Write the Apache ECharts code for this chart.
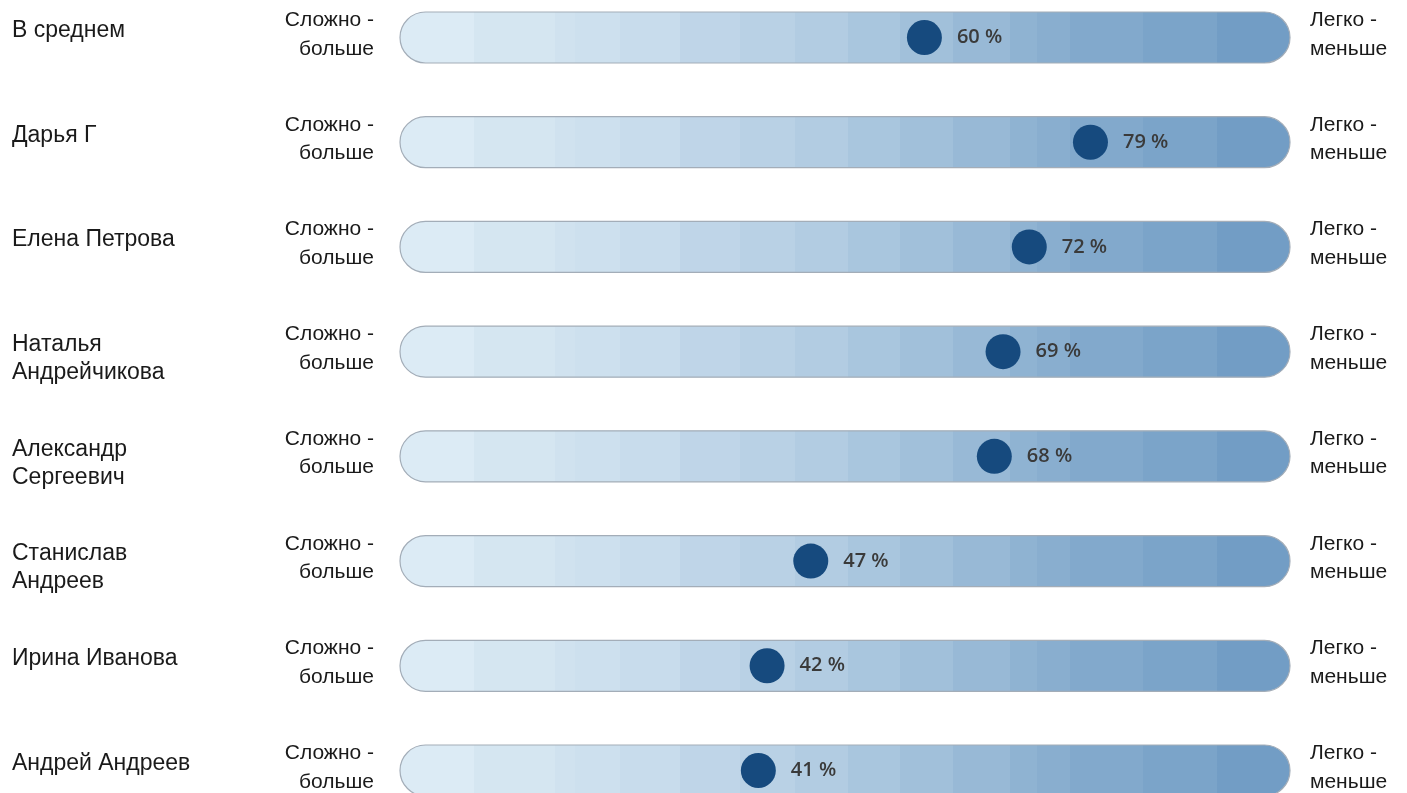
<!DOCTYPE html>
<html>
<head>
<meta charset="utf-8">
<script src="https://cdn.jsdelivr.net/npm/echarts@6/dist/echarts.min.js"></script>
<style>
html,body{margin:0;padding:0;background:#fff;}
#chart{width:1407px;height:793px;}
</style>
</head>
<body>
<div id="chart"></div>
<script>
// ---- data ----
const names = [
  'В среднем',
  'Дарья Г',
  'Елена Петрова',
  'Наталья\nАндрейчикова',
  'Александр\nСергеевич',
  'Станислав\nАндреев',
  'Ирина Иванова',
  'Андрей Андреев'
];
const values = [60, 79, 72, 69, 68, 47, 42, 41];
const leftLabel = 'Сложно -\nбольше';
const rightLabel = 'Легко -\nменьше';

// ---- styling ----
const stepEdges = [400, 475, 555, 575, 620, 680, 740, 795, 848, 900, 953, 1010, 1037, 1070, 1143, 1217, 1290];
const stepColors = ['#dcebf5', '#d5e6f1', '#d0e2ef', '#cde0ee', '#c8dcec', '#bfd5e8', '#b9d1e5', '#b2cce2',
  '#a9c6de', '#a1c0da', '#98b9d6', '#8fb3d2', '#89aecf', '#82a9cc', '#7ba4c9', '#729dc5'];
const x0 = stepEdges[0], x1 = stepEdges[stepEdges.length - 1], W = x1 - x0;
const stops = [];
stepColors.forEach((c, k) => {
  stops.push({offset: (stepEdges[k] - x0) / W, color: c});
  stops.push({offset: Math.min(1, (stepEdges[k + 1] - x0) / W - 0.0001), color: c});
});
const trackGradient = new echarts.graphic.LinearGradient(0, 0, 1, 0, stops);

const BAR_H = 51;
const TRACK_PAD = 16; // track extends slightly beyond 100 %
const FONT_FAMILY = 'Arial, "Liberation Sans", sans-serif';

const chart = echarts.init(document.getElementById('chart'), null, {renderer: 'canvas'});

const rowData = names.map((n, i) => [0, i]);
const dotData = values.map((v, i) => [v, i]);

function txt(text, x, y, align, size, lh) {
  return {
    type: 'text',
    style: {
      text: text, x: x, y: y, align: align, verticalAlign: 'top',
      fontFamily: FONT_FAMILY, fontSize: size, lineHeight: lh, fill: '#1a1a1a'
    }
  };
}

chart.setOption({
  animation: false,
  grid: {left: 400, width: 874, top: 37.5, height: 733},
  xAxis: {type: 'value', min: 0, max: 100, show: false},
  yAxis: {type: 'value', min: 0, max: 7, inverse: true, show: false},
  series: [
    {
      type: 'custom',
      data: rowData,
      silent: true,
      z: 1,
      renderItem: function (params, api) {
        const i = api.value(1);
        const p0 = api.coord([0, i]);
        const p1 = api.coord([100, i]);
        const cy = p0[1];
        const left = p0[0];
        const right = p1[0] + TRACK_PAD;
        return {
          type: 'group',
          children: [
            {
              type: 'rect',
              shape: {x: left, y: cy - BAR_H / 2, width: right - left, height: BAR_H, r: BAR_H / 2},
              style: {fill: trackGradient, stroke: '#a3adb8', lineWidth: 1.2}
            },
            txt(names[i], 12, cy - 21, 'left', 23, 28),
            txt(leftLabel, 374, cy - 31.5, 'right', 21, 28.5),
            txt(rightLabel, 1310, cy - 31.5, 'left', 21, 28.5)
          ]
        };
      }
    },
    {
      type: 'scatter',
      data: dotData,
      z: 3,
      symbol: 'circle',
      symbolSize: 35,
      itemStyle: {color: '#164a7e', opacity: 1},
      label: {
        show: true,
        position: 'right',
        distance: 15,
        formatter: p => p.value[0] + ' %',
        color: '#3a3a3a',
        fontFamily: 'Open Sans',
        fontWeight: 600,
        fontSize: 20
      }
    }
  ]
});
</script>
</body>
</html>
